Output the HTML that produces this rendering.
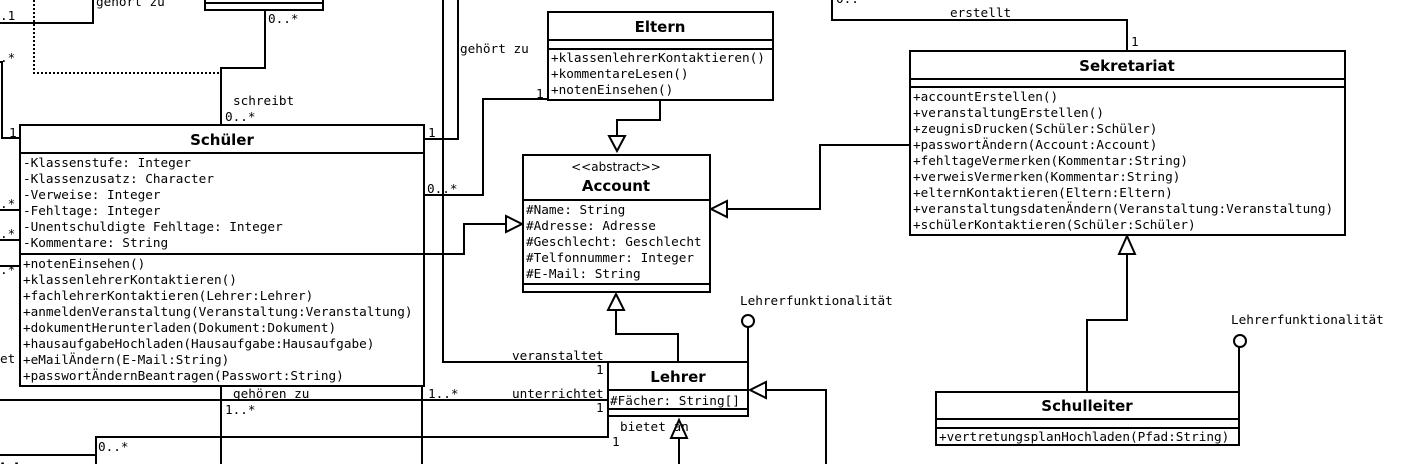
<!DOCTYPE html>
<html><head><meta charset="utf-8"><style>
html,body{margin:0;padding:0;background:#fff;width:1405px;height:464px;overflow:hidden}
svg{display:block}
text{font-family:"DejaVu Sans Mono","Liberation Mono",monospace;font-size:12.7px;fill:#000}
.b{font-family:"DejaVu Sans","Liberation Sans",sans-serif;font-weight:bold;font-size:15px}
.s{font-family:"DejaVu Sans","Liberation Sans",sans-serif;font-size:12px}
</style></head><body>
<svg width="1405" height="464" viewBox="0 0 1405 464" xmlns="http://www.w3.org/2000/svg">
<g fill="none" stroke="#000" stroke-width="2">
<!-- top left box -->
<rect x="205" y="-10" width="118" height="20" fill="#fff"/>
<line x1="205" y1="3" x2="323" y2="3"/>
<polyline points="265,10 265,68 221,68 221,125"/>
<polyline points="34,0 34,73 221,73" stroke-dasharray="2,2"/>
<polyline points="0,23 93,23 93,0"/>
<polyline points="0,62 2,62 2,138 20,138"/>
<line x1="0" y1="210" x2="20" y2="210"/>
<line x1="0" y1="240" x2="20" y2="240"/>
<line x1="0" y1="266" x2="20" y2="266"/>
<polyline points="424,139 458,139 458,0"/>
<polyline points="443,0 443,362 608,362"/>
<polyline points="424,195 483,195 483,99 548,99"/>
<polyline points="424,254 464,254 464,224 510,224"/>
<line x1="0" y1="400" x2="608" y2="400"/>
<polyline points="96,464 96,437 608,437 608,362"/>
<line x1="0" y1="455" x2="96" y2="455"/>
<line x1="221" y1="386" x2="221" y2="464"/>
<line x1="422" y1="386" x2="422" y2="464"/>
<polyline points="660,100 660,120 617,120 617,136"/>
<polyline points="910,145 820,145 820,209 726,209"/>
<polyline points="832,0 832,20 1127,20 1127,51"/>
<polyline points="1127,254 1127,320 1087,320 1087,392"/>
<polyline points="678,362 678,334 616,334 616,310"/>
<polyline points="766,390 826,390 826,464"/>
<line x1="679" y1="438" x2="679" y2="464"/>
<line x1="748" y1="327" x2="748" y2="362"/>
<circle cx="748" cy="321" r="6" fill="#fff"/>
<line x1="1239" y1="347" x2="1239" y2="392"/>
<circle cx="1240" cy="341" r="6" fill="#fff"/>
<!-- triangles -->
<polygon points="617,137 609,152 625,152" fill="#fff" transform="rotate(180 617 144)"/>
<polygon points="522,224 506,216 506,232" fill="#fff"/>
<polygon points="711,209 727,201 727,217" fill="#fff"/>
<polygon points="616,294 608,310 624,310" fill="#fff"/>
<polygon points="1127,236 1119,254 1135,254" fill="#fff"/>
<polygon points="750,390 766,382 766,398" fill="#fff"/>
<polygon points="679,420 671,438 687,438" fill="#fff"/>
<!-- Schüler -->
<rect x="20" y="125" width="404" height="261" fill="#fff"/>
<line x1="20" y1="153" x2="424" y2="153"/>
<line x1="20" y1="254" x2="424" y2="254"/>
<!-- Eltern -->
<rect x="548" y="12" width="225" height="88" fill="#fff"/>
<line x1="548" y1="40" x2="773" y2="40"/>
<line x1="548" y1="49" x2="773" y2="49"/>
<!-- Account -->
<rect x="523" y="155" width="187" height="137" fill="#fff"/>
<line x1="523" y1="200" x2="710" y2="200"/>
<line x1="523" y1="284" x2="710" y2="284"/>
<!-- Sekretariat -->
<rect x="910" y="51" width="435" height="184" fill="#fff"/>
<line x1="910" y1="79" x2="1345" y2="79"/>
<line x1="910" y1="87" x2="1345" y2="87"/>
<!-- Schulleiter -->
<rect x="936" y="392" width="303" height="53" fill="#fff"/>
<line x1="936" y1="419" x2="1239" y2="419"/>
<line x1="936" y1="428" x2="1239" y2="428"/>
<!-- Lehrer -->
<rect x="608" y="362" width="140" height="54" fill="#fff"/>
<line x1="608" y1="390" x2="748" y2="390"/>
<line x1="608" y1="409" x2="748" y2="409"/>
</g>
<!-- labels -->
<text x="96" y="6">gehört zu</text>
<text x="0" y="20">.1</text>
<text x="268" y="23">0..*</text>
<text x="0" y="62">.*</text>
<text x="9" y="137">1</text>
<text x="233" y="105">schreibt</text>
<text x="225" y="121">0..*</text>
<text x="460" y="53">gehört zu</text>
<text x="428" y="137">1</text>
<text x="536" y="98">1</text>
<text x="427" y="193">0..*</text>
<text x="0" y="208">.*</text>
<text x="0" y="238">.*</text>
<text x="0" y="274">.*</text>
<text x="0" y="363">et</text>
<text x="233" y="398">gehören zu</text>
<text x="225" y="414">1..*</text>
<text x="428" y="398">1..*</text>
<text x="98" y="451">0..*</text>
<text x="512" y="360">veranstaltet</text>
<text x="596" y="374">1</text>
<text x="512" y="398">unterrichtet</text>
<text x="596" y="412">1</text>
<text x="620" y="431">bietet an</text>
<text x="612" y="446">1</text>
<text x="740" y="305">Lehrerfunktionalität</text>
<text x="1231" y="324">Lehrerfunktionalität</text>
<text x="950" y="17">erstellt</text>
<text x="1131" y="46">1</text>
<text x="836" y="3">0..</text>
<text class="b" x="0" y="474">ich</text>
<!-- Schüler -->
<text class="b" x="222" y="145" text-anchor="middle">Schüler</text>
<text x="23" y="167">-Klassenstufe: Integer</text>
<text x="23" y="183">-Klassenzusatz: Character</text>
<text x="23" y="199">-Verweise: Integer</text>
<text x="23" y="215">-Fehltage: Integer</text>
<text x="23" y="231">-Unentschuldigte Fehltage: Integer</text>
<text x="23" y="247">-Kommentare: String</text>
<text x="23" y="268">+notenEinsehen()</text>
<text x="23" y="284">+klassenlehrerKontaktieren()</text>
<text x="23" y="300">+fachlehrerKontaktieren(Lehrer:Lehrer)</text>
<text x="23" y="316">+anmeldenVeranstaltung(Veranstaltung:Veranstaltung)</text>
<text x="23" y="332">+dokumentHerunterladen(Dokument:Dokument)</text>
<text x="23" y="348">+hausaufgabeHochladen(Hausaufgabe:Hausaufgabe)</text>
<text x="23" y="364">+eMailÄndern(E-Mail:String)</text>
<text x="23" y="380">+passwortÄndernBeantragen(Passwort:String)</text>
<!-- Eltern -->
<text class="b" x="660" y="32" text-anchor="middle">Eltern</text>
<text x="551" y="62">+klassenlehrerKontaktieren()</text>
<text x="551" y="78">+kommentareLesen()</text>
<text x="551" y="94">+notenEinsehen()</text>
<!-- Account -->
<text class="s" x="616" y="171" text-anchor="middle">&lt;&lt;abstract&gt;&gt;</text>
<text class="b" x="616" y="191" text-anchor="middle">Account</text>
<text x="526" y="214">#Name: String</text>
<text x="526" y="230">#Adresse: Adresse</text>
<text x="526" y="246">#Geschlecht: Geschlecht</text>
<text x="526" y="262">#Telfonnummer: Integer</text>
<text x="526" y="278">#E-Mail: String</text>
<!-- Sekretariat -->
<text class="b" x="1127" y="71" text-anchor="middle">Sekretariat</text>
<text x="913" y="101">+accountErstellen()</text>
<text x="913" y="117">+veranstaltungErstellen()</text>
<text x="913" y="133">+zeugnisDrucken(Schüler:Schüler)</text>
<text x="913" y="149">+passwortÄndern(Account:Account)</text>
<text x="913" y="165">+fehltageVermerken(Kommentar:String)</text>
<text x="913" y="181">+verweisVermerken(Kommentar:String)</text>
<text x="913" y="197">+elternKontaktieren(Eltern:Eltern)</text>
<text x="913" y="213">+veranstaltungsdatenÄndern(Veranstaltung:Veranstaltung)</text>
<text x="913" y="229">+schülerKontaktieren(Schüler:Schüler)</text>
<!-- Schulleiter -->
<text class="b" x="1087" y="411" text-anchor="middle">Schulleiter</text>
<text x="939" y="441">+vertretungsplanHochladen(Pfad:String)</text>
<!-- Lehrer -->
<text class="b" x="678" y="382" text-anchor="middle">Lehrer</text>
<text x="610" y="405">#Fächer: String[]</text>
</svg>
</body></html>
